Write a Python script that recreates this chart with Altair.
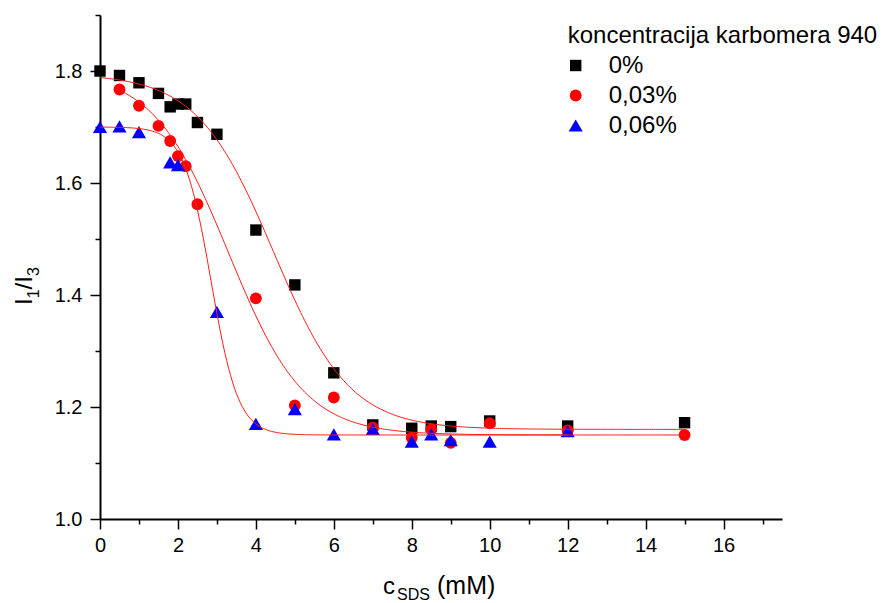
import altair as alt
import pandas as pd

FONT = "Liberation Sans"

series_names = ["0%", "0,03%", "0,06%"]
series_colors = ["#000000", "#ff0000", "#0000ff"]
series_shapes = ["square", "circle", "triangle-up"]
series_sizes = [130, 140, 200]

# measured points (c_SDS in mM, I1/I3)
x_0 = [0, 0.5, 1, 1.5, 1.8, 2, 2.2, 2.5, 3, 4, 5, 6, 7, 8, 8.5, 9, 10, 12, 15]
y_0 = [1.800, 1.792, 1.779, 1.760, 1.736, 1.741, 1.741, 1.708, 1.687, 1.516,
       1.418, 1.261, 1.168, 1.162, 1.166, 1.165, 1.175, 1.166, 1.172]

x_03 = [0.5, 1, 1.5, 1.8, 2, 2.2, 2.5, 4, 5, 6, 7, 8, 8.5, 9, 10, 12, 15]
y_03 = [1.767, 1.738, 1.702, 1.675, 1.648, 1.630, 1.562, 1.394, 1.203, 1.217,
        1.163, 1.145, 1.160, 1.136, 1.171, 1.158, 1.150]

x_06 = [0, 0.5, 1, 1.8, 2, 3, 4, 5, 6, 7, 8, 8.5, 9, 10, 12]
y_06 = [1.700, 1.701, 1.691, 1.637, 1.632, 1.370, 1.170, 1.196, 1.151, 1.161,
        1.138, 1.151, 1.141, 1.138, 1.157]

# Boltzmann fit parameters for each series
fit_A1 = [1.795, 1.800, 1.700]
fit_A2 = [1.160, 1.150, 1.150]
fit_x0 = [4.45, 3.30, 2.85]
fit_dx = [0.98, 0.97, 0.35]
fit_start = [0.0, 0.5, 0.0]
fit_end = [15.0, 15.0, 12.0]

x_major = [0, 2, 4, 6, 8, 10, 12, 14, 16]
x_minor = [1, 3, 5, 7, 9, 11, 13, 15, 17]
y_major = [1.0, 1.2, 1.4, 1.6, 1.8]
y_minor = [1.1, 1.3, 1.5, 1.7, 1.9]

rows = []
for name, xs, ys in zip(series_names, [x_0, x_03, x_06], [y_0, y_03, y_06]):
    for xv, yv in zip(xs, ys):
        rows.append({"series": name, "c": xv, "ratio": yv})
points_df = pd.DataFrame(rows)

x_scale = alt.Scale(domain=[0, 17.5], nice=False, zero=False)
y_scale = alt.Scale(domain=[1.0, 1.9], nice=False, zero=False)

common_axis = dict(grid=False, title=None, domainColor="black", tickColor="black",
                   labelColor="black", labelFont=FONT, labelFontSize=20,
                   domainWidth=2, tickWidth=1.5, labelFlush=False, labelOverlap=False)

major_x = alt.Axis(orient="bottom", values=x_major, tickSize=10, labelPadding=6,
                   format="d", **common_axis)
major_y = alt.Axis(orient="left", values=y_major, tickSize=10, labelPadding=8,
                   format=".1f", **common_axis)
minor_x = alt.Axis(orient="bottom", values=x_minor, tickSize=5, labels=False,
                   domain=False, grid=False, title=None, tickColor="black", tickWidth=1.5)
minor_y = alt.Axis(orient="left", values=y_minor, tickSize=5, labels=False,
                   domain=False, grid=False, title=None, tickColor="black", tickWidth=1.5)

legend = alt.Legend(
    title="koncentracija karbomera 940", orient="none", legendX=467.7, legendY=8.5,
    titleFont=FONT, titleFontSize=24, titleFontWeight="normal", titleColor="black",
    titleLimit=500, titlePadding=6, labelFont=FONT, labelFontSize=24,
    labelColor="black", labelOffset=21, rowPadding=6, symbolStrokeWidth=0,
    symbolOpacity=1, padding=0, labelLimit=300, symbolOffset=-4,
)

points = alt.Chart(points_df).mark_point(filled=True, opacity=1, strokeWidth=0).encode(
    x=alt.X("c:Q", scale=x_scale, axis=major_x),
    y=alt.Y("ratio:Q", scale=y_scale, axis=major_y),
    color=alt.Color("series:N", scale=alt.Scale(domain=series_names, range=series_colors),
                    legend=legend),
    shape=alt.Shape("series:N", scale=alt.Scale(domain=series_names, range=series_shapes),
                    legend=legend),
    size=alt.Size("series:N", scale=alt.Scale(type="ordinal", domain=series_names,
                                              range=series_sizes),
                  legend=legend),
)

lines = []
for i in range(len(series_names)):
    expr = (f"{fit_A2[i]} + ({fit_A1[i]} - {fit_A2[i]}) / "
            f"(1 + exp((datum.c - {fit_x0[i]}) / {fit_dx[i]}))")
    ln = (
        alt.Chart(alt.sequence(fit_start[i], fit_end[i] + 0.025, 0.05, as_="c"))
        .transform_calculate(ratio=expr)
        .mark_line(color="#ff1a1a", strokeWidth=1)
        .encode(
            x=alt.X("c:Q", scale=x_scale, axis=minor_x if i == 0 else None),
            y=alt.Y("ratio:Q", scale=y_scale, axis=minor_y if i == 0 else None),
        )
    )
    lines.append(ln)


def label(text, x, y, size, angle=0):
    return alt.Chart(alt.Data(values=[{}])).mark_text(
        text=text, fontSize=size, font=FONT, align="left", baseline="alphabetic",
        angle=angle, color="black",
    ).encode(x=alt.value(x), y=alt.value(y))


texts = [
    # x-axis title: c_SDS (mM)
    label("c", 283, 579, 24),
    label("SDS", 297, 585, 16),
    label("(mM)", 337, 579, 25),
    # y-axis title: I_1/I_3 (rotated)
    label("I", -68, 290, 24, 270),
    label("1", -61, 283.3, 16, 270),
    label("/I", -68, 274.4, 24, 270),
    label("3", -61, 261.1, 16, 270),
]

chart = (
    alt.layer(points, *lines, *texts)
    .resolve_axis(x="independent", y="independent")
    .properties(
        width=682, height=504,
        padding={"left": 100, "top": 15, "right": 100, "bottom": 84},
        autosize=alt.AutoSizeParams(type="none"),
        background="white",
    )
    .configure_view(stroke=None)
)

chart.save("out.html", embed_options={"renderer": "svg", "actions": False})
